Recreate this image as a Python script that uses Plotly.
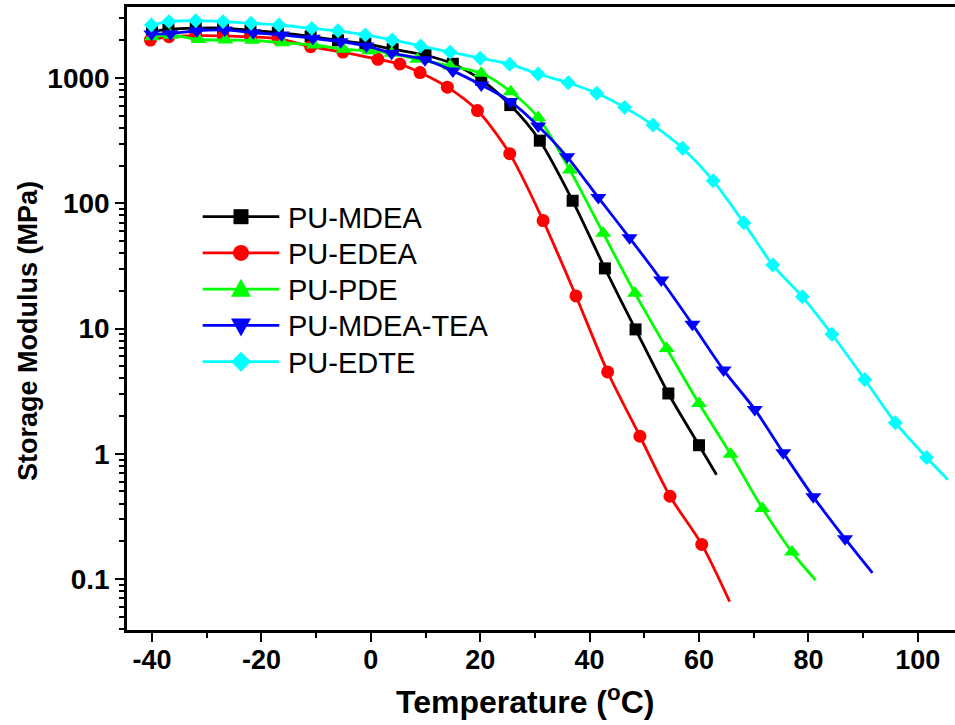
import plotly.graph_objects as go

# Storage modulus (MPa) vs temperature (°C) for five polyurethanes.
# Marker points for each sample, plus the final point where each curve ends.
T_MDEA = [-40.0, -37.0, -32.0, -27.0, -22.0, -17.0, -11.0, -6.0, -1.0, 4.0, 10.0, 15.0,
          20.2, 25.5, 30.9, 36.9, 42.8, 48.4, 54.4, 60.0]
E_MDEA = [2350, 2450, 2500, 2500, 2400, 2300, 2150, 2000, 1880, 1700, 1520, 1300,
          964, 608, 316, 104.7, 30.2, 9.84, 3.03, 1.17]
END_MDEA = (63.2, 0.68)

T_EDEA = [-40.3, -36.9, -32.0, -27.0, -22.0, -17.0, -11.0, -5.1, 1.3, 5.3, 9.0, 14.0,
          19.5, 25.4, 31.5, 37.5, 43.3, 49.2, 54.7, 60.5]
E_EDEA = [2010, 2140, 2180, 2170, 2130, 2060, 1780, 1610, 1410, 1294, 1105, 845,
          550, 249, 72.8, 18.2, 4.5, 1.38, 0.458, 0.189]
END_EDEA = (65.6, 0.066)

T_PDE = [-40.0, -36.6, -31.5, -26.6, -21.7, -16.2, -10.4, -5.0, -0.3, 3.8, 8.5, 14.5,
         20.2, 25.6, 30.6, 36.4, 42.5, 48.3, 54.1, 60.0, 65.8, 71.6, 77.0]
E_PDE = [2140, 2200, 2030, 2010, 2000, 1915, 1835, 1700, 1650, 1574, 1410, 1250,
         1090, 777, 485, 184, 57.5, 19.1, 6.93, 2.52, 0.99, 0.366, 0.164]
END_PDE = (81.3, 0.098)

T_MDEA_TEA = [-40.1, -36.6, -31.8, -26.7, -21.5, -16.3, -10.6, -5.5, -0.8, 3.8, 9.9, 15.0,
              20.2, 25.5, 30.6, 35.9, 41.6, 47.3, 53.1, 58.8, 64.5, 70.2, 75.4, 80.9, 86.7]
E_MDEA_TEA = [2245, 2260, 2385, 2420, 2300, 2210, 2075, 1950, 1800, 1580, 1400, 1140,
              879, 650, 414, 235, 111, 53, 24.4, 10.8, 4.66, 2.26, 1.02, 0.453, 0.21]
END_MDEA_TEA = (91.7, 0.112)

T_EDTE = [-40.1, -36.9, -32.0, -27.0, -21.9, -16.8, -10.8, -6.0, -1.0, 3.9, 9.1, 14.5,
          20.0, 25.4, 30.6, 36.1, 41.3, 46.4, 51.6, 57.0, 62.6, 68.2, 73.5, 78.9, 84.3,
          90.3, 95.9, 101.6]
E_EDTE = [2650, 2820, 2870, 2820, 2735, 2650, 2490, 2380, 2210, 2015, 1800, 1610,
          1440, 1290, 1076, 916, 755, 583, 421, 275, 151, 69.8, 32.1, 17.9, 9.0,
          3.92, 1.77, 0.933]
END_EDTE = (105.5, 0.62)

X_TICKS = [-40, -20, 0, 20, 40, 60, 80, 100]
X_TICK_TEXT = ["-40", "-20", "0", "20", "40", "60", "80", "100"]
Y_TICKS = [0.1, 1, 10, 100, 1000]
Y_TICK_TEXT = ["0.1", "1", "10", "100", "1000"]

SERIES = [
    ("PU-MDEA", T_MDEA, E_MDEA, END_MDEA, "#000000", "square", 12),
    ("PU-EDEA", T_EDEA, E_EDEA, END_EDEA, "#FF0000", "circle", 13),
    ("PU-PDE", T_PDE, E_PDE, END_PDE, "#00FF00", "triangle-up", 14),
    ("PU-MDEA-TEA", T_MDEA_TEA, E_MDEA_TEA, END_MDEA_TEA, "#0000FF", "triangle-down", 14),
    ("PU-EDTE", T_EDTE, E_EDTE, END_EDTE, "#00FFFF", "diamond", 11.5),
]

LINE_W = 2.8
BOLD_FONT = "Liberation Sans, Arial, sans-serif"
LEG_FONT = "Liberation Sans, Arial, sans-serif"

# plot area in pixels
W, H = 955, 725
PL, PR, PT, PB = 127, 955, 7, 630


def fx(px):
    return (px - PL) / (PR - PL)


def fy(py):
    return (PB - py) / (PB - PT)


fig = go.Figure()

for name, t, e, end, color, symbol, msize in SERIES:
    x = list(t) + [end[0]]
    y = list(e) + [end[1]]
    sizes = [msize] * len(t) + [0]
    fig.add_trace(go.Scatter(
        x=x, y=y, mode="lines+markers", name=name, showlegend=False,
        line=dict(color=color, width=LINE_W, shape="spline", smoothing=0.8),
        marker=dict(symbol=symbol, size=sizes, color=color, opacity=1,
                    line=dict(width=0)),
    ))

# ---- legend box drawn inside the axes ----
LEG_LINE = (202.7, 279.3)
LEG_MX = 241
LEG_TX = 285.5
LEG_Y0 = 216.7
LEG_DY = 36.25

# marker outlines in pixel offsets (y up)
LEG_SYMBOL = {
    "square": ("rect", -7.5, -7.5, 7.5, 7.5),
    "circle": ("circle", -8, -8, 8, 8),
    "triangle-up": ("path", "M-10,-7.5 L10,-7.5 L0,10.5 Z"),
    "triangle-down": ("path", "M-10,7 L10,7 L0,-11 Z"),
    "diamond": ("path", "M-10,0 L0,10 L10,0 L0,-10 Z"),
}

shapes = []
annotations = []
for i, (name, _, _, _, color, symbol, _) in enumerate(SERIES):
    yc = LEG_Y0 + i * LEG_DY
    shapes.append(dict(type="line", xref="paper", yref="paper",
                       x0=fx(LEG_LINE[0]), x1=fx(LEG_LINE[1]), y0=fy(yc), y1=fy(yc),
                       line=dict(color=color, width=LINE_W)))
    spec = LEG_SYMBOL[symbol]
    common = dict(xref="paper", yref="paper", xsizemode="pixel", ysizemode="pixel",
                  xanchor=fx(LEG_MX), yanchor=fy(yc), fillcolor=color,
                  line=dict(width=0))
    if spec[0] == "path":
        shapes.append(dict(type="path", path=spec[1], **common))
    else:
        shapes.append(dict(type=spec[0], x0=spec[1], y0=spec[2], x1=spec[3], y1=spec[4],
                           **common))
    annotations.append(dict(text=name, xref="paper", yref="paper",
                            x=fx(LEG_TX), y=fy(yc + 1), xanchor="left", yanchor="middle",
                            showarrow=False,
                            font=dict(family=LEG_FONT, size=29, color="black")))

# axis titles
annotations.append(dict(text="Temperature (<sup>o</sup>C)", xref="paper", yref="paper",
                        x=fx(525), y=fy(700), xanchor="center", yanchor="middle",
                        showarrow=False,
                        font=dict(family=BOLD_FONT, size=32, color="black", weight="bold")))
annotations.append(dict(text="Storage Modulus (MPa)", xref="paper", yref="paper",
                        x=fx(28), y=fy(331), xanchor="center", yanchor="middle",
                        textangle=-90, showarrow=False,
                        font=dict(family=BOLD_FONT, size=27, color="black", weight="bold")))

fig.update_layout(
    width=W, height=H,
    margin=dict(l=PL, r=W - PR, t=PT, b=H - PB),
    paper_bgcolor="white", plot_bgcolor="white",
    showlegend=False,
    shapes=shapes,
    annotations=annotations,
    xaxis=dict(
        range=[-44.57, 106.8], tickmode="array", tickvals=X_TICKS, ticktext=X_TICK_TEXT,
        showline=True, linecolor="black", linewidth=2.5, mirror=True,
        ticks="outside", ticklen=9, tickwidth=2, tickcolor="black",
        minor=dict(ticks="outside", tickmode="linear", tick0=0, dtick=10, ticklen=5,
                   tickwidth=2, tickcolor="black"),
        showgrid=False, zeroline=False, ticklabelstandoff=-5,
        tickfont=dict(family=BOLD_FONT, size=27, color="black", weight="bold"),
    ),
    yaxis=dict(
        type="log", range=[-1.407, 3.567], tickmode="array", tickvals=Y_TICKS,
        ticktext=Y_TICK_TEXT,
        showline=True, linecolor="black", linewidth=2.5, mirror=False,
        ticks="outside", ticklen=9, tickwidth=2, tickcolor="black",
        minor=dict(ticks="outside", dtick="D1", ticklen=5, tickwidth=1.5, tickcolor="black"),
        showgrid=False, zeroline=False,
        tickfont=dict(family=BOLD_FONT, size=28, color="black", weight="bold"),
    ),
)

fig.write_html("out.html")
